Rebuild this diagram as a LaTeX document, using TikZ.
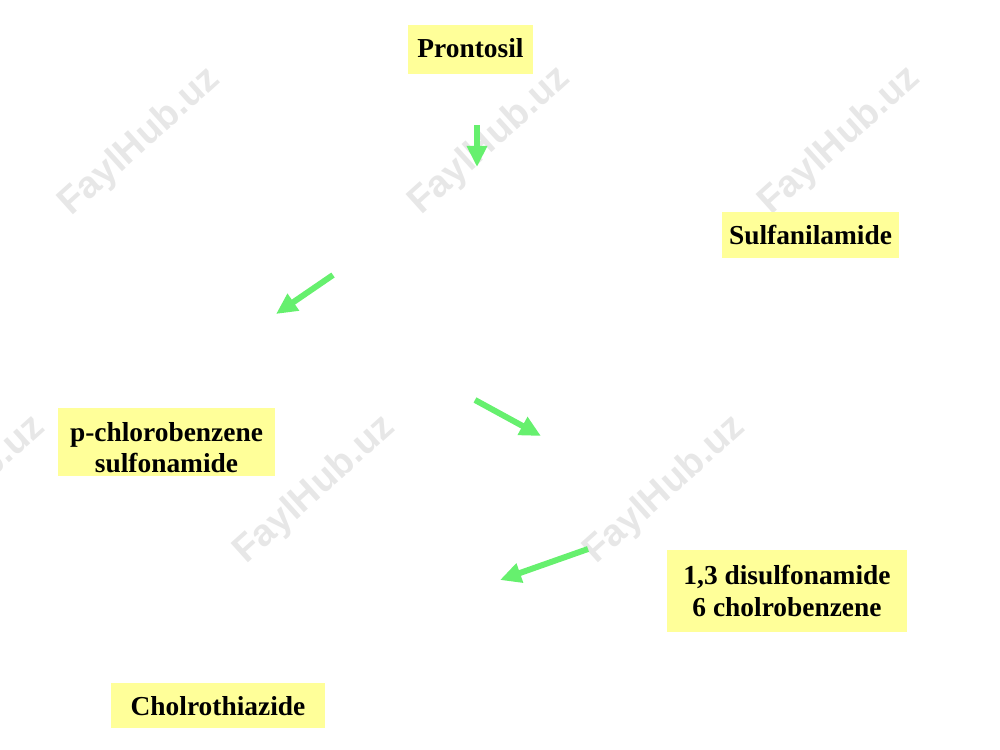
\documentclass[tikz,border=0pt]{standalone}
\usepackage{fontspec}
\setmainfont{Liberation Serif}
\newfontfamily\wmfont{Liberation Sans}
\usetikzlibrary{arrows.meta}
\definecolor{boxyellow}{RGB}{255,255,153}
\definecolor{arrowgreen}{RGB}{102,240,110}
\definecolor{wmgray}{RGB}{231,231,231}

\begin{document}
\begin{tikzpicture}[x=0.02cm,y=-0.02cm,>={Triangle[length=12pt,width=11pt]},
    compound/.style={fill=boxyellow,inner sep=0pt,align=center,
      font=\fontsize{15.6}{17.8}\selectfont\bfseries},
    reaction/.style={->,draw=arrowgreen,fill=arrowgreen,line width=3.4pt},
    watermark/.style={text=wmgray,rotate=42,font=\wmfont\fontsize{21.5}{21.5}\selectfont\bfseries}]
    \useasboundingbox (0,0) rectangle (1000,750);

    % watermarks
    \foreach \wx/\wy in {140/142,490/141,840/141,-35/490,315/490,665/490}
      \node[watermark] at (\wx,\wy) {FaylHub.uz};

    % compounds
    \node[compound,minimum width=2.5cm,minimum height=0.98cm,text depth=0.08cm] (prontosil) at (470.5,49.5) {Prontosil};
    \node[compound,minimum width=3.54cm,minimum height=0.92cm] (sulfa) at (810.5,235.3) {Sulfanilamide};
    \node[compound,minimum width=4.34cm,minimum height=1.36cm] (pchloro) at (166.5,442)
      {\rule{0pt}{0.6cm}p-chlorobenzene\\sulfonamide};
    \node[compound,minimum width=4.8cm,minimum height=1.64cm] (disulfo) at (787,591)
      {1,3 disulfonamide\\6 cholrobenzene};
    \node[compound,minimum width=4.28cm,minimum height=0.9cm] (chlorothiazide) at (218,705.8) {Cholrothiazide};

    % arrow ends
    \coordinate (a1) at (477,125);
    \coordinate (b1) at (477,167);
    \coordinate (a2) at (333,275);
    \coordinate (b2) at (276,314);
    \coordinate (a3) at (475,400);
    \coordinate (b3) at (541,436);
    \coordinate (a4) at (588,549);
    \coordinate (b4) at (500,580);

    \draw[reaction] (a1) -- (b1);
    \draw[reaction] (a2) -- (b2);
    \draw[reaction] (a3) -- (b3);
    \draw[reaction] (a4) -- (b4);
\end{tikzpicture}
\end{document}
